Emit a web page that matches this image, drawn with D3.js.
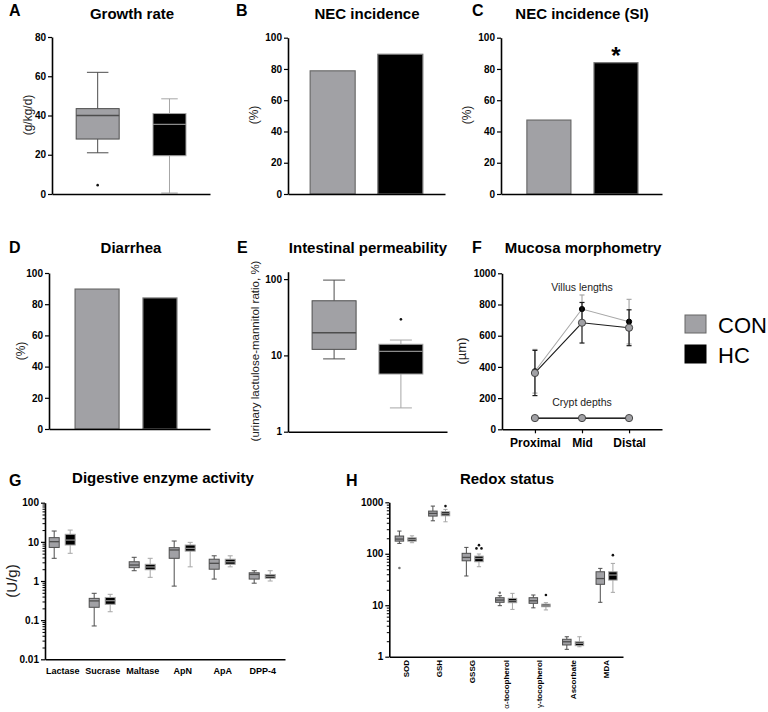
<!DOCTYPE html>
<html>
<head>
<meta charset="utf-8">
<script src="https://cdn.jsdelivr.net/npm/d3@7"></script>
<style>
  body { margin: 0; background: #fff; }
  text { font-family: "Liberation Sans", Arial, sans-serif; }
</style>
</head>
<body>
<svg id="fig" width="768" height="712"></svg>
<script>
// ---- data ----
var groups = ["CON", "HC"];

// box stats: [low whisker, q1, median, q3, high whisker]
var growthBox = [[21, 28, 40, 43.5, 62], [0.5, 19.5, 35.5, 41, 48.5]];
var growthOut = [[4.5], []];

var necIncidence = [78.8, 89.4];
var necIncidenceSI = [47.3, 84];
var diarrhea = [89.7, 84];

var permBox = [[9, 12, 19.8, 52, 97], [2.05, 5.7, 11.3, 14, 15.9]];
var permOut = [[], [29.7]];

var regions = ["Proximal", "Mid", "Distal"];
var villusCON = [361, 683, 651];
var villusCONerr = [145, 130, 115];
var villusHC = [372, 771, 690];
var villusHCerr = [140, 90, 143];
var cryptCON = [72, 72, 72];
var cryptHC = [70, 70, 70];

var enzymes = ["Lactase", "Sucrase", "Maltase", "ApN", "ApA", "DPP-4"];
var enzymeCON = [[3.8, 7.2, 10.1, 12.8, 18.9], [0.071, 0.213, 0.31, 0.36, 0.485], [1.83, 2.19, 2.56, 3.1, 4.03],
                 [0.74, 3.8, 6.2, 7.1, 10.5], [1.12, 2.0, 2.83, 3.6, 4.4], [0.88, 1.12, 1.47, 1.62, 1.83]];
var enzymeHC = [[5.1, 8.3, 11.1, 15.6, 20], [0.164, 0.254, 0.314, 0.38, 0.457], [1.24, 1.94, 2.28, 2.67, 3.8],
                [2.3, 5.8, 6.8, 8.3, 9.7], [2.3, 2.67, 3.1, 3.6, 4.4], [1.0, 1.18, 1.32, 1.47, 1.83]];

var redox = ["SOD", "GSH", "GSSG", "α-tocopherol", "γ-tocopherol", "Ascorbate", "MDA"];
var redoxCON = [[159, 176, 193, 221, 276], [437, 540, 608, 675, 844], [37, 73, 85, 102, 133], [9.8, 11.4, 12.6, 14, 15.3],
                [8.9, 10.9, 12.2, 14, 15.8], [1.39, 1.69, 1.95, 2.18, 2.44], [11.4, 25.5, 33, 44.7, 52]];
var redoxHC = [[164, 176, 190, 204, 223], [418, 547, 598, 654, 728], [56, 70, 81, 90, 99], [8.3, 11.2, 12.2, 13.6, 17],
               [8.1, 9.35, 9.8, 10.5, 11.2], [1.56, 1.64, 1.82, 1.95, 2.44], [17.8, 30.8, 38.6, 44.7, 65]];
var redoxOutCON = [[53], [], [], [17.5], [], [], []];
var redoxOutHC = [[], [844], [147, 127, 127], [], [15.8], [], [94]];

// ---- styles ----
var conFill = "#a1a1a5", conLine = "#4d4d4d", conMed = "#4d4d4d";
var hcFill = "#000", hcLine = "#a6a6a6", hcMed = "#8a8a8a";

var svg = d3.select("#fig");

function styleAxis(a, size) {
  a.select(".domain").attr("stroke", "#000").attr("stroke-width", 1.6);
  a.selectAll(".tick line").attr("stroke", "#000").attr("stroke-width", 1.2);
  a.selectAll("text").attr("font-weight", "bold").attr("font-size", size || 10).attr("fill", "#000");
}

function yAxis(x, scale, ticks, fmt) {
  var a = svg.append("g").attr("transform", "translate(" + x + ",0)")
    .call(d3.axisLeft(scale).tickValues(ticks).tickSize(4).tickSizeOuter(0).tickPadding(2).tickFormat(fmt));
  styleAxis(a);
  return a;
}

function minorTicks(x, scale, decades) {
  var vals = [];
  decades.forEach(function (d) { for (var k = 2; k <= 9; k++) vals.push(d * k); });
  var a = svg.append("g").attr("transform", "translate(" + x + ",0)")
    .call(d3.axisLeft(scale).tickValues(vals).tickSize(2.5).tickSizeOuter(0).tickFormat(""));
  a.select(".domain").remove();
  a.selectAll(".tick line").attr("stroke", "#000").attr("stroke-width", 1);
}

function xAxis(y, scale, tick, pad, size) {
  var a = svg.append("g").attr("transform", "translate(0," + y + ")")
    .call(d3.axisBottom(scale).tickSize(tick).tickSizeOuter(0).tickPadding(pad));
  styleAxis(a, size);
  return a;
}

function title(x, y, t) {
  svg.append("text").attr("x", x).attr("y", y).attr("text-anchor", "middle")
    .attr("font-size", 15).attr("font-weight", "bold").text(t);
}
function letter(x, y, t) {
  svg.append("text").attr("x", x).attr("y", y).attr("font-size", 16).attr("font-weight", "bold").text(t);
}
function yLabel(x, y, t, size) {
  svg.append("text").attr("transform", "translate(" + x + "," + y + ") rotate(-90)")
    .attr("dy", "0.35em").attr("text-anchor", "middle").attr("font-size", size || 12)
    .attr("fill", "#222").text(t);
}

function drawBox(y, cx, w, s, fill, line, med, outs, outCol) {
  var b = svg.append("g");
  b.append("line").attr("x1", cx).attr("x2", cx).attr("y1", y(s[0])).attr("y2", y(s[1])).attr("stroke", line);
  b.append("line").attr("x1", cx).attr("x2", cx).attr("y1", y(s[3])).attr("y2", y(s[4])).attr("stroke", line);
  [s[0], s[4]].forEach(function (v) {
    b.append("line").attr("x1", cx - w / 4).attr("x2", cx + w / 4).attr("y1", y(v)).attr("y2", y(v)).attr("stroke", line);
  });
  b.append("rect").attr("x", cx - w / 2).attr("y", y(s[3])).attr("width", w).attr("height", y(s[1]) - y(s[3]))
    .attr("fill", fill).attr("stroke", line);
  b.append("line").attr("x1", cx - w / 2).attr("x2", cx + w / 2).attr("y1", y(s[2])).attr("y2", y(s[2]))
    .attr("stroke", med).attr("stroke-width", 1.3);
  (outs || []).forEach(function (v, i, arr) {
    var dx = 0;
    if (arr.length > 1) {
      var same = arr.filter(function (u) { return u === v; });
      if (same.length > 1) dx = arr.indexOf(v) === i ? -2.5 : 2.5;
    }
    b.append("circle").attr("cx", cx + dx).attr("cy", y(v)).attr("r", 1.3).attr("fill", outCol);
  });
}

function drawBar(y, cx, w, v, fill, line) {
  svg.append("rect").attr("x", cx - w / 2).attr("y", y(v)).attr("width", w).attr("height", y(0) - y(v))
    .attr("fill", fill).attr("stroke", line).attr("stroke-width", 1.2);
}

var fills = [conFill, hcFill], lines = [conLine, hcLine], meds = [conMed, hcMed];

// ---- A: Growth rate ----
var xA = d3.scalePoint().domain(groups).range([52, 210]).padding(0.6).align(0.53);
var yA = d3.scaleLinear().domain([0, 80]).range([194, 37]);
var widA = [43, 33];
groups.forEach(function (g, i) {
  drawBox(yA, xA(g), widA[i], growthBox[i], fills[i], lines[i], meds[i], growthOut[i], "#111");
});
yAxis(52, yA, [0, 20, 40, 60, 80], d3.format("d"));
xAxis(194, xA, 0, 0).selectAll("text").remove();
yLabel(28, 115, "(g/kg/d)");
title(132, 19, "Growth rate");
letter(9, 16, "A");

// ---- B: NEC incidence ----
var xB = d3.scalePoint().domain(groups).range([288, 445]).padding(0.66).align(0.5);
var yB = d3.scaleLinear().domain([0, 100]).range([194, 37.7]);
groups.forEach(function (g, i) { drawBar(yB, xB(g), 45, necIncidence[i], fills[i], i ? "#777" : "#6a6a6a"); });
yAxis(288, yB, [0, 20, 40, 60, 80, 100], d3.format("d"));
xAxis(194, xB, 0, 0).selectAll("text").remove();
yLabel(254, 115, "(%)");
title(367, 19, "NEC incidence");
letter(236, 16, "B");

// ---- C: NEC incidence (SI) ----
var xC = d3.scalePoint().domain(groups).range([501, 662]).padding(0.7).align(0.51);
var yC = d3.scaleLinear().domain([0, 100]).range([194, 37.7]);
groups.forEach(function (g, i) { drawBar(yC, xC(g), 44, necIncidenceSI[i], fills[i], i ? "#777" : "#6a6a6a"); });
yAxis(501, yC, [0, 20, 40, 60, 80, 100], d3.format("d"));
xAxis(194, xC, 0, 0).selectAll("text").remove();
yLabel(467, 115, "(%)");
title(582, 19, "NEC incidence (SI)");
letter(472, 16, "C");
svg.append("text").attr("x", xC("HC")).attr("y", yC(necIncidenceSI[1]) + 1).attr("text-anchor", "middle")
  .attr("font-size", 24).attr("font-weight", "bold").text("*");

// ---- D: Diarrhea ----
var xD = d3.scalePoint().domain(groups).range([49, 210]).padding(0.78).align(0.49);
var yD = d3.scaleLinear().domain([0, 100]).range([429, 273]);
var widD = [44, 34];
groups.forEach(function (g, i) { drawBar(yD, xD(g), widD[i], diarrhea[i], fills[i], i ? "#777" : "#6a6a6a"); });
yAxis(49, yD, [0, 20, 40, 60, 80, 100], d3.format("d"));
xAxis(429, xD, 0, 0).selectAll("text").remove();
yLabel(21, 351, "(%)");
title(131, 253, "Diarrhea");
letter(9, 253, "D");

// ---- E: Intestinal permeability ----
var yE = d3.scaleLog().domain([1, 125]).range([431.7, 431.7 - 76.3 * Math.log10(125)]);
var xE = d3.scalePoint().domain(groups).range([288, 447]).padding(0.69).align(0.5);
groups.forEach(function (g, i) {
  drawBox(yE, xE(g), 44, permBox[i], fills[i], lines[i], meds[i], permOut[i], "#111");
});
yAxis(288, yE, [1, 10, 100], d3.format("d"));
xAxis(431.7, xE, 0, 0).selectAll("text").remove();
yLabel(255, 351, "(urinary lactulose-mannitol ratio, %)", 11.5);
title(368, 253, "Intestinal permeability");
letter(237, 253, "E");

// ---- F: Mucosa morphometry ----
var xF = d3.scalePoint().domain(regions).range([502, 662]).padding(0.7).align(0.5);
var yF = d3.scaleLinear().domain([0, 1000]).range([429.3, 273.3]);

function series(vals, errs, lineCol, errCol, dotFill, dotStroke, r) {
  var g = svg.append("g");
  if (errs) {
    regions.forEach(function (d, i) {
      var x = xF(d), lo = yF(vals[i] - errs[i]), hi = yF(vals[i] + errs[i]);
      g.append("line").attr("x1", x).attr("x2", x).attr("y1", lo).attr("y2", hi).attr("stroke", errCol).attr("stroke-width", 1.2);
      [lo, hi].forEach(function (yy) {
        g.append("line").attr("x1", x - 2.5).attr("x2", x + 2.5).attr("y1", yy).attr("y2", yy).attr("stroke", errCol).attr("stroke-width", 1.2);
      });
    });
  }
  g.append("path").datum(vals)
    .attr("d", d3.line().x(function (v, i) { return xF(regions[i]); }).y(function (v) { return yF(v); }))
    .attr("fill", "none").attr("stroke", lineCol).attr("stroke-width", 1.1);
  vals.forEach(function (v, i) {
    g.append("circle").attr("cx", xF(regions[i])).attr("cy", yF(v)).attr("r", r)
      .attr("fill", dotFill).attr("stroke", dotStroke).attr("stroke-width", 1);
  });
}
series(villusHC, villusHCerr, "#a8a8a8", "#a8a8a8", "#000", "#000", 2.6);
series(villusCON, villusCONerr, "#1a1a1a", "#1a1a1a", conFill, "#444", 3.6);
series(cryptHC, null, "#1a1a1a", null, "#000", "#000", 2.6);
series(cryptCON, null, "#333", null, conFill, "#444", 3.6);
svg.append("text").attr("x", xF("Mid")).attr("y", 291).attr("text-anchor", "middle").attr("font-size", 10.5).attr("fill", "#222").text("Villus lengths");
svg.append("text").attr("x", xF("Mid")).attr("y", 406).attr("text-anchor", "middle").attr("font-size", 10.5).attr("fill", "#222").text("Crypt depths");
yAxis(502, yF, [0, 200, 400, 600, 800, 1000], d3.format("d"));
xAxis(429.3, xF, 4, 5, 12);
yLabel(461, 351, "(µm)", 13);
title(583, 253, "Mucosa morphometry");
letter(472, 253, "F");

// legend
var leg = svg.append("g");
groups.forEach(function (g, i) {
  leg.append("rect").attr("x", 685).attr("y", 315 + i * 30).attr("width", 21).attr("height", 18)
    .attr("fill", fills[i]).attr("stroke", i ? "#000" : "#666").attr("stroke-width", 1);
  leg.append("text").attr("x", 718).attr("y", 333 + i * 30).attr("font-size", 22).text(g);
});

// ---- G: Digestive enzyme activity ----
var xG = d3.scalePoint().domain(enzymes).range([45, 285]).padding(0.5).align(0.43);
var yG = d3.scaleLog().domain([0.01, 100]).range([659.3, 502.7]);
enzymes.forEach(function (e, i) {
  drawBox(yG, xG(e) - 8, 10, enzymeCON[i], conFill, conLine, conMed, [], "#333");
  drawBox(yG, xG(e) + 8, 10, enzymeHC[i], hcFill, hcLine, hcMed, [], "#111");
});
minorTicks(45, yG, [0.01, 0.1, 1, 10]);
yAxis(45, yG, [0.01, 0.1, 1, 10, 100], function (d) { return d >= 1 ? d3.format("d")(d) : String(d); });
xAxis(659.3, xG, 0, 8, 9);
yLabel(12, 581, "(U/g)", 15);
title(163, 483, "Digestive enzyme activity");
letter(9, 486, "G");

// ---- H: Redox status ----
var xH = d3.scalePoint().domain(redox).range([389.3, 623]).padding(0.49).align(0.5);
var yH = d3.scaleLog().domain([1, 1000]).range([656.7, 502.3]);
redox.forEach(function (r, i) {
  drawBox(yH, xH(r) - 6.3, 8.5, redoxCON[i], conFill, conLine, conMed, redoxOutCON[i], "#777");
  drawBox(yH, xH(r) + 6.3, 8.5, redoxHC[i], hcFill, hcLine, hcMed, redoxOutHC[i], "#111");
});
minorTicks(389.3, yH, [1, 10, 100]);
yAxis(389.3, yH, [1, 10, 100, 1000], d3.format("d"));
var axH = xAxis(656.7, xH, 0, 0);
axH.selectAll("text").remove();
redox.forEach(function (r) {
  var t = svg.append("text").attr("transform", "translate(" + xH(r) + ",660) rotate(-90)")
    .attr("dy", "0.35em").attr("text-anchor", "end").attr("font-size", 8).attr("font-weight", "bold");
  if (r.indexOf("tocopherol") > 0) {
    t.append("tspan").attr("font-weight", "normal").text(r.charAt(0));
    t.append("tspan").text(r.slice(1));
  } else {
    t.text(r);
  }
});
title(507, 484, "Redox status");
letter(346, 486, "H");
</script>
</body>
</html>
